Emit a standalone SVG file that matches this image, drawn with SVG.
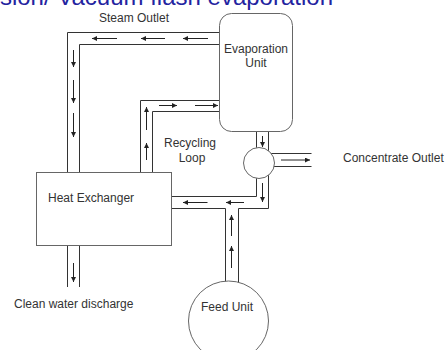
<svg xmlns="http://www.w3.org/2000/svg" width="447" height="350" viewBox="0 0 447 350">
<style>
text{font-family:"Liberation Sans",Arial,sans-serif;font-size:12px;fill:#333}
.title{font-size:24px;fill:#2323a0}
.pipe{fill:none;stroke:#333;stroke-width:1}
.arr{fill:none;stroke:#222;stroke-width:1;marker-end:url(#ah)}
.node{fill:#fff;stroke:#666;stroke-width:1}
</style>
<defs>
<marker id="ah" markerUnits="userSpaceOnUse" markerWidth="6" markerHeight="6" refX="5" refY="2.5" orient="auto">
<path d="M0,0 L5,2.5 L0,5 z" fill="#222"/>
</marker>
</defs>
<rect width="447" height="350" fill="#fff"/>
<text class="title" x="333" y="5" text-anchor="end">sion/ Vacuum flash evaporation</text>
<g id="connectors">
<path class="pipe" d="M219.5,32.5 H67.5 V172.5 M219.5,44.5 H79.5 V172.5"/>
<path class="pipe" d="M67.5,245.5 V287 M79.5,245.5 V287"/>
<path class="pipe" d="M140.5,172.5 V100.5 H219.5 M152.5,172.5 V111.5 H219.5"/>
<path class="pipe" d="M256.5,131.5 V150 M268.5,131.5 V152"/>
<path class="pipe" d="M256.5,176 V196.5 H171.5 M268.5,174 V208.5 H238.5 M225.5,208.5 H171.5"/>
<path class="pipe" d="M225.5,208.5 V282 M238.5,208.5 V283"/>
<path class="pipe" d="M271,153.5 H311.5 M274,166.5 H311.5"/>
<line class="arr" x1="117" y1="38.5" x2="92" y2="38.5"/>
<line class="arr" x1="165" y1="38.5" x2="141" y2="38.5"/>
<line class="arr" x1="208" y1="38.5" x2="183" y2="38.5"/>
<line class="arr" x1="73.5" y1="50" x2="73.5" y2="67"/>
<line class="arr" x1="73.5" y1="80" x2="73.5" y2="103"/>
<line class="arr" x1="73.5" y1="113" x2="73.5" y2="137"/>
<line class="arr" x1="146.5" y1="160" x2="146.5" y2="143"/>
<line class="arr" x1="146.5" y1="130" x2="146.5" y2="107"/>
<line class="arr" x1="159" y1="105.5" x2="177" y2="105.5"/>
<line class="arr" x1="195" y1="105.5" x2="218" y2="105.5"/>
<line class="arr" x1="262.5" y1="136" x2="262.5" y2="147"/>
<line class="arr" x1="281" y1="160" x2="310" y2="160"/>
<line class="arr" x1="262.5" y1="183" x2="262.5" y2="202"/>
<line class="arr" x1="244" y1="202.5" x2="226" y2="202.5"/>
<line class="arr" x1="207.5" y1="202.5" x2="183" y2="202.5"/>
<line class="arr" x1="231.5" y1="268" x2="231.5" y2="246"/>
<line class="arr" x1="231.5" y1="236" x2="231.5" y2="215"/>
<line class="arr" x1="73.5" y1="263" x2="73.5" y2="282"/>
<text x="134" y="22" text-anchor="middle">Steam Outlet</text>
<text x="190" y="147" text-anchor="middle">Recycling</text>
<text x="192" y="161.5" text-anchor="middle">Loop</text>
<text x="343" y="162">Concentrate Outlet</text>
<text x="14" y="308">Clean water discharge</text>
</g>
<g id="evaporation-unit">
<rect class="node" x="219.5" y="13.5" width="73" height="118" rx="12" ry="12"/>
<text x="256" y="53" text-anchor="middle">Evaporation</text>
<text x="256" y="67" text-anchor="middle">Unit</text>
</g>
<g id="heat-exchanger">
<rect class="node" x="36.5" y="172.5" width="135" height="73" stroke="#555"/>
<text x="48" y="202">Heat Exchanger</text>
</g>
<g id="valve">
<circle class="node" cx="259" cy="163" r="15.5"/>
</g>
<g id="feed-unit">
<circle class="node" cx="228.5" cy="321" r="40"/>
<text x="227" y="311" text-anchor="middle">Feed Unit</text>
</g>
</svg>
